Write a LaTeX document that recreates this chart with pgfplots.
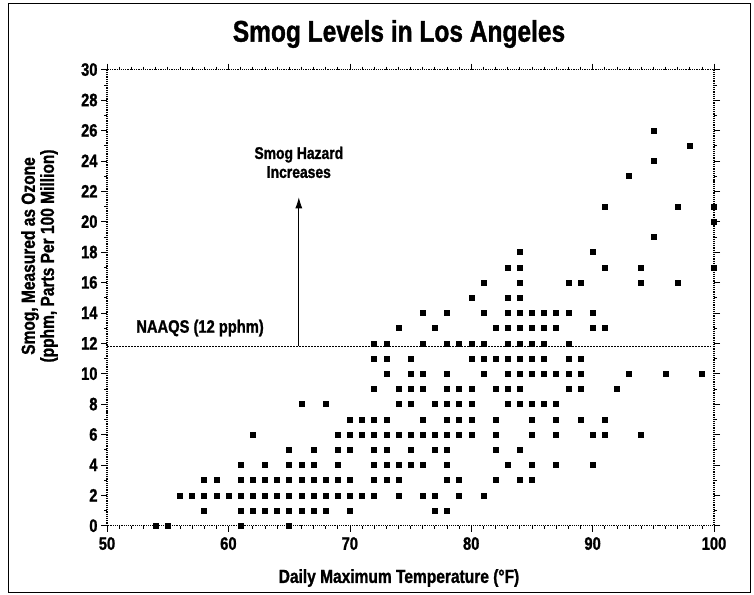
\documentclass[border=0pt]{standalone}
\usepackage{fontspec}
\setmainfont{Liberation Sans}[FakeStretch=0.82, BoldFeatures={FakeBold=1.2}]
\usepackage{pgfplots}
\pgfplotsset{compat=1.18}
\usetikzlibrary{arrows.meta}
\begin{document}
\begin{tikzpicture}[x=1bp,y=1bp]
\path[use as bounding box] (0,0) rectangle (754,-595);
\draw[line width=1bp] (8.7,-3.3) rectangle (750,-592);
\node[font=\bfseries\fontsize{30}{32}\selectfont] at (399,-34) {Smog Levels in Los Angeles};
\node[font=\bfseries\fontsize{19}{21}\selectfont] at (399,-578) {Daily Maximum Temperature (°F)};
\node[font=\bfseries\fontsize{19}{21}\selectfont, rotate=90] at (30,-256) {Smog, Measured as Ozone};
\node[font=\bfseries\fontsize{19}{21}\selectfont, rotate=90] at (49,-256) {(pphm, Parts Per 100 Million)};
\begin{axis}[
  at={(107bp,-525.7bp)}, anchor=south west,
  scale only axis, width=607bp, height=456.1bp,
  xmin=50, xmax=100, ymin=0, ymax=30,
  xtick={50,60,...,100}, ytick={0,2,...,30},
  minor x tick num=9, minor y tick num=1,
  tick align=outside,
  major tick length=6bp, minor tick length=3bp,
  tick style={black, line width=0.6bp},
  x axis line style={densely dotted, line width=0.8bp},
  y axis line style={line width=1.2bp},
  ticklabel style={font=\bfseries\fontsize{18}{20}\selectfont},
  xticklabel style={yshift=-2bp},
  /pgf/number format/assume math mode=true,
  clip=false,
]
\addplot[only marks, mark=square*, mark size=2.5bp, black] table {
x y
54 0
55 0
61 0
65 0
58 1
61 1
62 1
63 1
64 1
65 1
66 1
67 1
68 1
70 1
77 1
78 1
56 2
57 2
58 2
59 2
60 2
61 2
62 2
63 2
64 2
65 2
66 2
67 2
68 2
69 2
70 2
71 2
72 2
74 2
76 2
77 2
79 2
81 2
58 3
59 3
61 3
62 3
63 3
64 3
65 3
66 3
67 3
68 3
69 3
70 3
72 3
73 3
74 3
78 3
79 3
82 3
84 3
85 3
61 4
63 4
65 4
66 4
67 4
69 4
72 4
73 4
74 4
75 4
76 4
78 4
83 4
85 4
87 4
90 4
65 5
67 5
69 5
70 5
72 5
73 5
75 5
77 5
78 5
82 5
84 5
62 6
69 6
70 6
71 6
72 6
73 6
74 6
75 6
76 6
77 6
78 6
79 6
80 6
82 6
85 6
87 6
90 6
91 6
94 6
70 7
71 7
72 7
73 7
76 7
78 7
79 7
80 7
82 7
85 7
87 7
89 7
91 7
66 8
68 8
74 8
75 8
77 8
78 8
79 8
80 8
83 8
84 8
85 8
86 8
87 8
72 9
74 9
75 9
76 9
78 9
79 9
80 9
82 9
83 9
84 9
88 9
89 9
92 9
73 10
75 10
76 10
78 10
81 10
83 10
84 10
85 10
86 10
87 10
88 10
89 10
93 10
96 10
99 10
72 11
73 11
75 11
80 11
81 11
82 11
83 11
84 11
85 11
86 11
88 11
89 11
72 12
73 12
76 12
78 12
79 12
80 12
81 12
83 12
84 12
85 12
86 12
88 12
74 13
77 13
82 13
83 13
84 13
85 13
86 13
87 13
90 13
91 13
76 14
78 14
81 14
83 14
84 14
85 14
86 14
87 14
88 14
90 14
80 15
83 15
84 15
81 16
84 16
88 16
89 16
94 16
97 16
83 17
84 17
91 17
94 17
100 17
84 18
90 18
95 19
100 20
91 21
97 21
100 21
93 23
95 24
98 25
95 26
};
\draw[line width=0.6bp, dash pattern=on 2bp off 1bp] (axis cs:50,11.8) -- (axis cs:99.7,11.8);
\draw[line width=0.8bp, -{Latex[length=11bp,width=7bp]}] (axis cs:65.8,11.8) -- (axis cs:65.8,21.6);
\node[font=\bfseries\fontsize{17}{19}\selectfont, align=center] at (axis cs:65.8,23.9) {Smog Hazard\\Increases};
\node[font=\bfseries\fontsize{18}{20}\selectfont, anchor=west, inner sep=0pt] at (axis cs:52.4,13.0) {NAAQS (12 pphm)};
\end{axis}
\end{tikzpicture}
\end{document}
